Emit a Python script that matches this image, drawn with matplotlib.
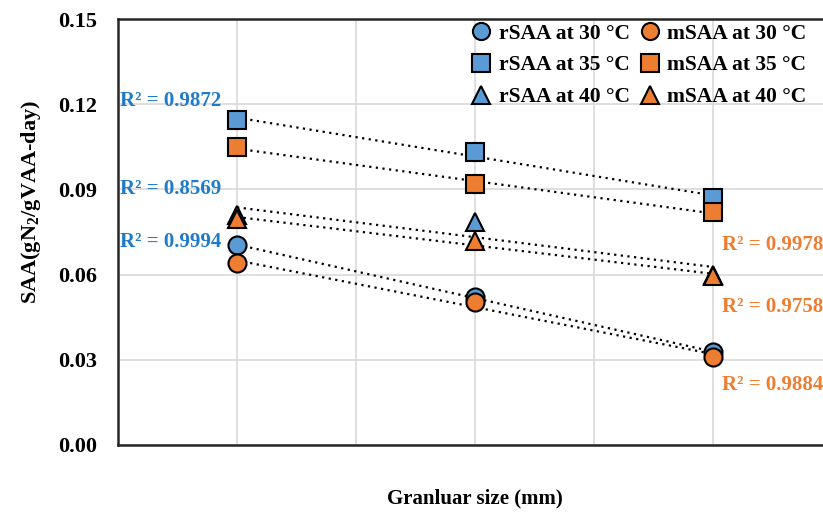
import numpy as np
import matplotlib.pyplot as plt

plt.rcParams['font.family'] = ['Liberation Serif', 'DejaVu Serif']
plt.rcParams['font.weight'] = 'bold'

# granular size positions (no tick labels on the original)
x = [1, 3, 5]

series = {
    'rSAA at 30 °C': [0.0704, 0.0520, 0.0327],
    'rSAA at 35 °C': [0.1144, 0.1033, 0.0870],
    'rSAA at 40 °C': [0.0810, 0.0785, 0.0600],
    'mSAA at 30 °C': [0.0640, 0.0505, 0.0310],
    'mSAA at 35 °C': [0.1048, 0.0920, 0.0820],
    'mSAA at 40 °C': [0.0795, 0.0718, 0.0595],
}
markers = ['o', 's', '^', 'o', 's', '^']
colors = ['#5B9BD5'] * 3 + ['#ED7D31'] * 3

r2_blue = ['R² = 0.9872', 'R² = 0.8569', 'R² = 0.9994']
r2_blue_y = [0.1211, 0.0901, 0.0715]
r2_orange = ['R² = 0.9978', 'R² = 0.9758', 'R² = 0.9884']
r2_orange_y = [0.0704, 0.0486, 0.0211]

fig = plt.figure(figsize=(8.23, 5.15), dpi=100)
ax = fig.add_axes([0.1434, 0.136, 0.868, 0.827])

xs = np.array(x, dtype=float)
for (name, vals), m, c in zip(series.items(), markers, colors):
    k, b = np.polyfit(xs, vals, 1)
    ax.plot(xs, k * xs + b, ls=(0, (1, 2)), color='black', lw=1.6, zorder=2)
    ax.plot(xs, vals, ls='none', marker=m, ms=13, mfc=c, mec='black',
            mew=1.5, label=name, zorder=3)

for t, yy in zip(r2_blue, r2_blue_y):
    ax.text(0.02, yy, t, color='#1F7BC8', fontsize=15, fontweight='bold',
            va='center', ha='left')
for t, yy in zip(r2_orange, r2_orange_y):
    ax.text(5.07, yy, t, color='#ED7D31', fontsize=15, fontweight='bold',
            va='center', ha='left')

ax.set_xlim(0, 6)
ax.set_ylim(0, 0.15)
ax.set_xticks([1, 2, 3, 4, 5])
ax.set_xticklabels([])
ax.set_yticks(np.arange(0, 0.151, 0.03))
ax.set_yticklabels(['%.2f' % v for v in np.arange(0, 0.151, 0.03)], fontsize=16)
ax.tick_params(length=0)
ax.tick_params(axis='y', pad=15)
ax.grid(True, color='#D9D9D9', lw=1.2)
ax.set_axisbelow(True)
for s in ['top', 'left', 'bottom']:
    ax.spines[s].set_color('#262626')
    ax.spines[s].set_linewidth(1.8)
ax.spines['right'].set_visible(False)

ax.set_ylabel('SAA(gN$_\\mathregular{2}$/gVAA-day)', fontsize=16, fontweight='bold')
ax.yaxis.set_label_coords(-0.105, 0.57)
ax.set_xlabel('Granluar size (mm)', fontsize=15, fontweight='bold', labelpad=28)

ax.legend(loc='upper right', bbox_to_anchor=(0.985, 1.025), ncol=2, frameon=False,
          fontsize=15.5, handletextpad=0.25, columnspacing=0.4, labelspacing=0.55,
          handlelength=1.1, markerscale=0.95, borderaxespad=0.3)

fig.savefig('out.png', dpi=100)
